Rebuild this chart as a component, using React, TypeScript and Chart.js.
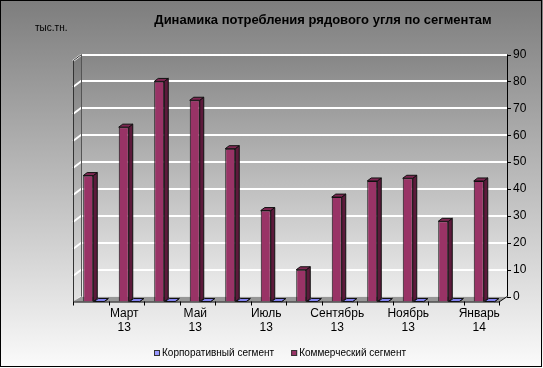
import React, { useEffect, useRef } from "react";
import { Chart, registerables } from "chart.js";

Chart.register(...registerables);

const TITLE = "Динамика потребления рядового угля по сегментам";
const UNIT = "тыс.тн.";
const MONTHS = ["Февраль", "Март", "Апрель", "Май", "Июнь", "Июль", "Август", "Сентябрь", "Октябрь", "Ноябрь", "Декабрь", "Январь"];
const YEARS = ["13", "13", "13", "13", "13", "13", "13", "13", "13", "13", "13", "14"];
const CORPORATE = [0, 0, 0, 0, 0, 0, 0, 0, 0, 0, 0, 0];
const COMMERCIAL = [45, 63, 80, 73, 55, 32, 10, 37, 43, 44, 28, 43];
const Y_TICKS = [0, 10, 20, 30, 40, 50, 60, 70, 80, 90];
const SERIES_NAMES = ["Корпоративный сегмент", "Коммерческий сегмент"];

// styling / geometry constants
const FONT = "'Liberation Sans', Arial, sans-serif";
const FLOOR = -1.8; // depth of the floor expressed in axis units
const DX = 8, DY = 6; // wall / floor depth
const SHIFT = 3; // front plane offset from chart area
const BDX = 4, BDY = 3; // bar depth
const COLORS = {
  corp: { front: "#9999ff", top: "#8282f0", side: "#6666cc" },
  comm: { front: "#993366", top: "#7e2752", side: "#5c1a3b" },
};

function poly(ctx: CanvasRenderingContext2D, pts: number[][], fill: string, stroke?: string) {
  ctx.beginPath();
  ctx.moveTo(pts[0][0], pts[0][1]);
  for (let i = 1; i < pts.length; i++) ctx.lineTo(pts[i][0], pts[i][1]);
  ctx.closePath();
  ctx.fillStyle = fill;
  ctx.fill();
  if (stroke) {
    ctx.strokeStyle = stroke;
    ctx.lineWidth = 1;
    ctx.stroke();
  }
}

const scenePlugin = {
  id: "scene3d",
  beforeDraw(chart: any) {
    const { ctx, chartArea: a, scales } = chart;
    const W = chart.width, H = chart.height;
    const y = scales.y;
    ctx.save();
    let g = ctx.createLinearGradient(0, 0, 0, H);
    g.addColorStop(0, "#7d7d7d");
    g.addColorStop(1, "#fbfbfb");
    ctx.fillStyle = g;
    ctx.fillRect(0, 0, W, H);

    const fl = a.left - SHIFT, fr = a.right - SHIFT;
    const bl = fl + DX, br = fr + DX;
    const top = y.getPixelForValue(Y_TICKS[Y_TICKS.length - 1]);
    const zero = y.getPixelForValue(0);
    const front = a.bottom;

    // back wall
    g = ctx.createLinearGradient(0, top, 0, zero);
    g.addColorStop(0, "#868686");
    g.addColorStop(1, "#eeeeee");
    ctx.fillStyle = g;
    ctx.fillRect(bl, top, br - bl, zero - top);
    // left wall
    g = ctx.createLinearGradient(0, top, 0, front);
    g.addColorStop(0, "#7a7a7a");
    g.addColorStop(1, "#e2e2e2");
    poly(ctx, [[fl, top + DY], [bl, top], [bl, zero], [fl, front]], g as any);

    // gridlines
    ctx.strokeStyle = "#ffffff";
    ctx.lineWidth = 2;
    for (const v of Y_TICKS) {
      const py = Math.round(y.getPixelForValue(v));
      ctx.beginPath();
      ctx.moveTo(fl, py + DY);
      ctx.lineTo(bl, py);
      ctx.lineTo(br, py);
      ctx.stroke();
    }

    // floor
    poly(ctx, [[fl, front], [fr, front], [br, zero], [bl, zero]], "#979797");
    ctx.lineWidth = 1;
    ctx.strokeStyle = "#000";
    ctx.beginPath();
    ctx.moveTo(fl, front + 0.5);
    ctx.lineTo(fr, front + 0.5);
    ctx.lineTo(br, zero);
    ctx.stroke();
    // wall edges
    ctx.strokeStyle = "#333";
    ctx.beginPath();
    ctx.moveTo(fl + 0.5, front);
    ctx.lineTo(fl + 0.5, top + DY);
    ctx.lineTo(bl + 0.5, top);
    ctx.stroke();
    ctx.strokeStyle = "#555";
    ctx.beginPath();
    ctx.moveTo(bl + 0.5, top);
    ctx.lineTo(bl + 0.5, zero);
    ctx.stroke();
    // right value axis
    ctx.strokeStyle = "#000";
    ctx.beginPath();
    ctx.moveTo(br + 0.5, top);
    ctx.lineTo(br + 0.5, zero);
    for (const v of Y_TICKS) {
      const py = Math.round(y.getPixelForValue(v)) + 0.5;
      ctx.moveTo(br, py);
      ctx.lineTo(br + 4, py);
    }
    ctx.stroke();
    // category ticks
    const xs = scales.x;
    const cw = xs.getPixelForValue(1) - xs.getPixelForValue(0);
    ctx.beginPath();
    for (let i = 0; i <= MONTHS.length; i++) {
      const px = Math.round(xs.getPixelForValue(0) - cw / 2 - SHIFT + i * cw) + 0.5;
      ctx.moveTo(px, front);
      ctx.lineTo(px, front + 4);
    }
    ctx.stroke();
    ctx.restore();
  },
  afterDatasetsDraw(chart: any) {
    const { ctx } = chart;
    ctx.save();
    chart.getSortedVisibleDatasetMetas().forEach((meta: any) => {
      const c = meta.index === 0 ? COLORS.comm : COLORS.corp;
      meta.data.forEach((el: any) => {
        const { x, y, base, width } = el.getProps(["x", "y", "base", "width"], true);
        const l = x - width / 2, r = x + width / 2;
        poly(ctx, [[r, y], [r + BDX, y - BDY], [r + BDX, base - BDY], [r, base]], c.side, "#111");
        poly(ctx, [[l, y], [r, y], [r + BDX, y - BDY], [l + BDX, y - BDY]], c.top, "#111");
      });
    });
    ctx.restore();
  },
  afterDraw(chart: any) {
    const { ctx } = chart;
    const W = chart.width, H = chart.height;
    ctx.save();
    ctx.fillStyle = "#000";
    ctx.textBaseline = "middle";
    ctx.font = `bold 13px ${FONT}`;
    ctx.textAlign = "center";
    ctx.fillText(TITLE, 323, 20);
    ctx.font = `10px ${FONT}`;
    ctx.textAlign = "left";
    ctx.fillText(UNIT, 35, 28);

    // legend
    ctx.font = `10px ${FONT}`;
    const items = [
      { name: SERIES_NAMES[0], color: COLORS.corp.front },
      { name: SERIES_NAMES[1], color: COLORS.comm.front },
    ];
    const box = 6, gapText = 2, gapItem = 17;
    const widths = items.map((it) => box + gapText + ctx.measureText(it.name).width);
    const total = widths.reduce((s, w) => s + w, 0) + gapItem;
    let lx = Math.round(280 - total / 2);
    const ly = 353;
    items.forEach((it, i) => {
      ctx.fillStyle = it.color;
      ctx.fillRect(lx, ly - 3, box, box);
      ctx.strokeStyle = "#333";
      ctx.lineWidth = 1;
      ctx.strokeRect(lx + 0.5, ly - 2.5, box - 1, box - 1);
      ctx.fillStyle = "#000";
      ctx.fillText(it.name, lx + box + gapText, ly);
      lx += widths[i] + gapItem;
    });

    ctx.strokeStyle = "#000";
    ctx.lineWidth = 1;
    ctx.strokeRect(0.5, 0.5, W - 2, H - 2);
    ctx.restore();
  },
};

export default function App() {
  const ref = useRef<HTMLCanvasElement>(null);
  useEffect(() => {
    if (!ref.current) return;
    Chart.defaults.font.family = FONT;
    const chart = new Chart(ref.current, {
      type: "bar",
      data: {
        labels: MONTHS.map((m, i) => [m, YEARS[i]]),
        datasets: [
          {
            label: SERIES_NAMES[1],
            data: COMMERCIAL,
            backgroundColor: COLORS.comm.front,
            borderColor: "#111",
            borderWidth: 1,
            base: FLOOR,
            yAxisID: "y",
          } as any,
          {
            label: SERIES_NAMES[0],
            data: CORPORATE,
            backgroundColor: COLORS.corp.front,
            borderColor: "#111",
            borderWidth: 0,
            yAxisID: "yb",
          } as any,
        ],
      },
      options: {
        responsive: false,
        animation: false,
        layout: { padding: { left: 76, right: 5, top: 54.5, bottom: 30.5 } },
        datasets: { bar: { categoryPercentage: 0.62, barPercentage: 0.91 } },
        plugins: { legend: { display: false }, title: { display: false }, tooltip: { enabled: false } },
        scales: {
          x: {
            grid: { display: false, drawTicks: false },
            border: { display: false },
            ticks: {
              autoSkip: false,
              maxRotation: 0,
              minRotation: 0,
              padding: 6,
              labelOffset: -5,
              color: "#000",
              font: { size: 12, lineHeight: 1.1 },
              callback: (_v: any, i: number) => (i % 2 === 1 ? [MONTHS[i], YEARS[i]] : ""),
            },
            afterFit: (s: any) => { s.height = 36; },
          },
          y: {
            position: "right",
            min: FLOOR,
            max: Y_TICKS[Y_TICKS.length - 1],
            grid: { display: false, drawTicks: false },
            border: { display: false },
            afterBuildTicks: (s: any) => { s.ticks = Y_TICKS.map((v) => ({ value: v })); },
            ticks: { padding: 11, color: "#000", font: { size: 12 }, callback: (v: any) => String(v) },
            afterFit: (s: any) => { s.width = 36; },
          },
          yb: {
            display: false,
            min: 0,
            max: Y_TICKS[Y_TICKS.length - 1] - FLOOR,
          },
        },
      } as any,
      plugins: [scenePlugin],
    });
    return () => chart.destroy();
  }, []);
  return (
    <div style={{ position: "fixed", left: 0, top: 0, width: 543, height: 368 }}>
      <canvas ref={ref} width={543} height={368} style={{ display: "block" }} />
    </div>
  );
}
